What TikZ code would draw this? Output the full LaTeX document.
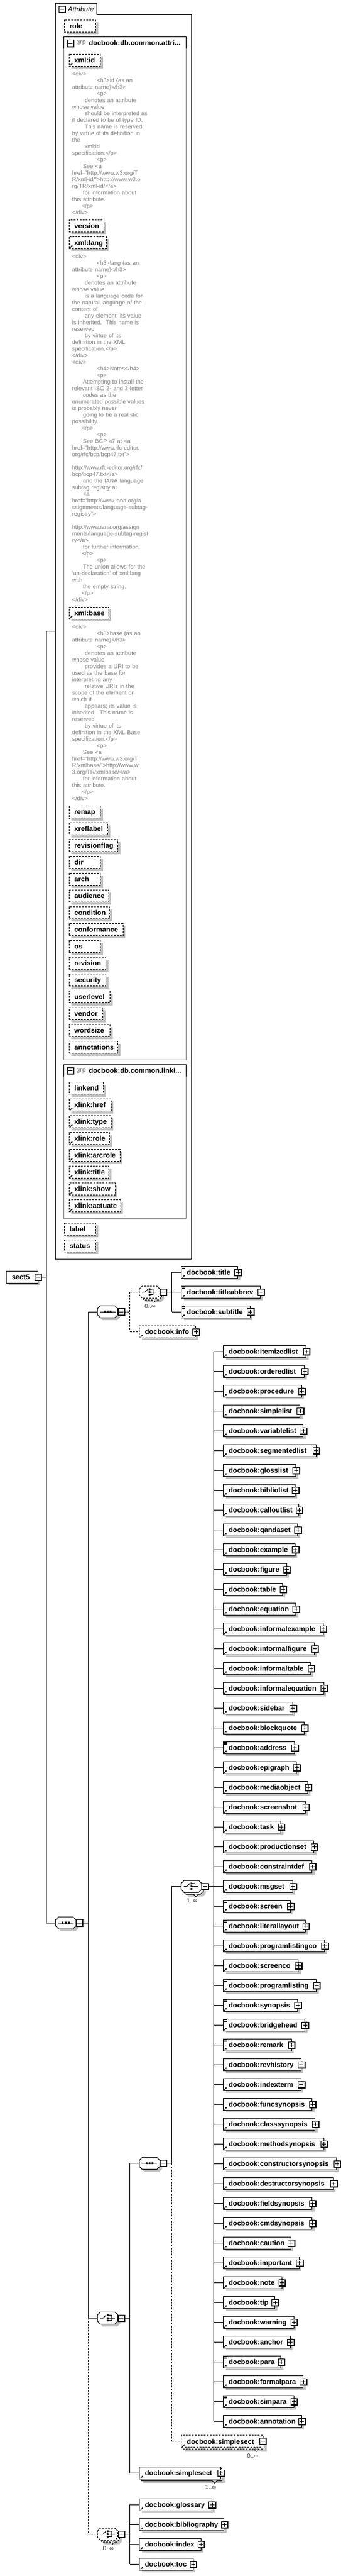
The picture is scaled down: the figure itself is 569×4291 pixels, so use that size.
\documentclass[tikz,border=0pt]{standalone}
\usepackage{fontspec}
\setmainfont{Liberation Sans}
\usetikzlibrary{calc, arrows.meta, shadows}

\definecolor{shadowgray}{RGB}{192,192,192}
\definecolor{docgray}{RGB}{128,128,128}
\definecolor{grpgray}{RGB}{128,128,128}

\newcommand{\elemfont}{\fontsize{11.6}{13}\selectfont\bfseries}
\newcommand{\docfont}{\fontsize{9.6}{11}\selectfont}
\newcommand{\tabin}[1]{\hspace*{#1pt}}

\tikzset{
  shadowed/.style={drop shadow={shadow xshift=4pt, shadow yshift=-4pt, fill=shadowgray, opacity=1}},
  elembox/.style={draw, fill=white, anchor=west, minimum height=20pt, inner xsep=9pt, inner ysep=0pt,
    text height=8.5pt, text depth=0pt, align=left, font=\elemfont},
  optline/.style={dash pattern=on 3pt off 2pt},
  compobox/.style={minimum width=34.2pt, minimum height=20pt, inner sep=0pt, anchor=west},
  doctext/.style={anchor=base west, inner sep=0pt, text width=170pt, align=left, text=docgray, font=\docfont},
  multlabel/.style={inner sep=0pt, text=black!80, font=\fontsize{10}{12}\selectfont},
  grptag/.style={anchor=west, inner sep=0pt, text=grpgray, font=\fontsize{11}{13}\selectfont},
  grpname/.style={anchor=west, inner sep=0pt, font=\elemfont},
  conn/.style={line width=1pt},
  optconn/.style={conn, optline},
}

% small button on a box edge: #1 centre point, #2 = 1 for plus, 0 for minus
\newcommand{\btn}[2]{%
  \fill ($#1+(-5.7,-5.7)$) rectangle ($#1+(6.7,6.7)$);
  \fill[white] ($#1+(-4.7,-4.7)$) rectangle ($#1+(4.7,4.7)$);
  \draw ($#1+(-3.5,0)$) -- ($#1+(3.5,0)$);
  \ifnum#2=1 \draw ($#1+(0,-3.5)$) -- ($#1+(0,3.5)$);\fi
}
% reference arrow and mixed content marks
\newcommand{\refmark}[1]{\draw[-{Stealth[length=2.6pt,width=2.8pt]}, line width=0.9pt]
  ($(#1.south west)+(2,-1.6)$) -- ++(4.2,-4.2);}
\newcommand{\mixmark}[1]{\foreach \k in {1.5,3.2,4.9}
  \draw[line width=0.8pt] ($(#1.north west)+(1.6,\k)$) -- ++(5,0);}

% element box: #1 extra style, #2 name, #3 left x, #4 centre y, #5 box width, #6 text
\newcommand{\elem}[6][]{%
  \pgfmathsetmacro{\boxtw}{#5-18}%
  \node[elembox, shadowed, text width=\boxtw pt, #1] (#2) at (#3,#4) {\mbox{#6}};
  \refmark{#2}
  \btn{(#2.east)}{1}
}
% repeated element box: as \elem, #7 occurrence text
\newcommand{\elemstack}[7][]{%
  \fill[shadowgray] (#3+7,#4-3) rectangle (#3+#5+7,#4+17);
  \filldraw[fill=white, #1] (#3+3,#4-7) rectangle (#3+#5+3,#4+13);
  \filldraw[fill=white, #1] (#3+#5-13.5,#4+13) -- (#3+#5-9.5,#4+17) -- (#3+#5-5.5,#4+13);
  \pgfmathsetmacro{\boxtw}{#5-18}%
  \node[elembox, text width=\boxtw pt, #1] (#2) at (#3,#4) {\mbox{#6}};
  \refmark{#2}
  \btn{(#2.east)}{1}
  \node[multlabel] (#2-mult) at (#3+#5-16,#4+24) {#7};
}
% attribute box: #1 extra style, #2 name, #3 left x, #4 centre y, #5 box width, #6 text
\newcommand{\attr}[6][]{%
  \pgfmathsetmacro{\boxtw}{#5-18}%
  \node[elembox, shadowed, optline, text width=\boxtw pt, #1] (#2) at (#3,#4) {\mbox{#6}};
}

% compositor outline and icons
\newcommand{\octpath}[2]{(#1,#2-5) -- (#1+5,#2-10) -- (#1+29.2,#2-10) -- (#1+34.2,#2-5)
  -- (#1+34.2,#2+5) -- (#1+29.2,#2+10) -- (#1+5,#2+10) -- (#1,#2+5) -- cycle}
\newcommand{\seqicon}[2]{%
  \draw (#1+4,#2) -- (#1+30,#2);
  \foreach \k in {10.3,15.5,20.7} \fill (#1+\k,#2-1.6) rectangle ++(3.2,3.2);
}
\newcommand{\choiceicon}[2]{%
  \draw (#1+4.5,#2) -- (#1+9.5,#2) -- (#1+14.5,#2-5);
  \fill (#1+15.4,#2-6.1) rectangle ++(3,3);
  \fill (#1+15.4,#2-1.5) rectangle ++(3,3);
  \fill (#1+15.4,#2+3.1) rectangle ++(3,3);
  \draw (#1+18.4,#2-4.6) -- (#1+23.5,#2-4.6) -- (#1+23.5,#2+4.6) -- (#1+18.4,#2+4.6);
  \draw (#1+18.4,#2) -- (#1+29,#2);
}
% compositor: #1 outline style, #2 name, #3 left x, #4 centre y, #5 icon
\newcommand{\compo}[5][]{%
  \node[compobox] (#2) at (#3,#4) {};
  \fill[shadowgray] \octpath{#3+4}{#4+4};
  \filldraw[fill=white, #1] \octpath{#3}{#4};
  #5{#3}{#4}
  \btn{(#3+39.9,#4)}{0}
  \coordinate (#2-out) at (#3+45.6,#4);
  \coordinate (#2-bus) at (#3+54.4,#4);
}
% repeated compositor: as \compo, #6 occurrence text
\newcommand{\compostack}[6][]{%
  \fill[shadowgray] \octpath{#3+7}{#4+7};
  \filldraw[fill=white, #1] \octpath{#3+3}{#4+3};
  \filldraw[fill=white, #1] (#3+20.7,#4+13) -- (#3+24.7,#4+17) -- (#3+28.7,#4+13);
  \node[compobox] (#2) at (#3,#4) {};
  \filldraw[fill=white, #1] \octpath{#3}{#4};
  #5{#3}{#4}
  \btn{(#3+39.9,#4)}{0}
  \coordinate (#2-out) at (#3+45.6,#4);
  \coordinate (#2-bus) at (#3+54.4,#4);
  \node[multlabel] (#2-mult) at (#3+18.2,#4+24) {#6};
}

\begin{document}
\begin{tikzpicture}[x=1pt, y=-1pt, line width=1pt]

    \fill[white] (0,0) rectangle (569,4291);
    \useasboundingbox (0,0) rectangle (569,4291);

    % Draw the attribute frame with its tab
    \node[minimum width=225.8pt, minimum height=2090.7pt, inner sep=0pt, anchor=north west] (attrframe) at (92.6,5.3) {};
    \draw (attrframe.south west) -- (attrframe.north west) -- ++(69.2,0) -- ++(0,19)
        -- ($(attrframe.north east)+(0,19)$) -- (attrframe.south east) -- cycle;
    \btn{(103.5,15.3)}{0}
    \node[anchor=west, inner sep=0pt, font=\fontsize{11.6}{13}\selectfont\itshape] (attrtab) at (112.9,15) {Attribute};

    \attr{role}{106.6}{43.3}{52.6}{role}

    % Draw the group of common attributes
    \draw[grpgray] (106.6,81) -- (106.6,1765) -- (310.7,1765) -- (310.7,81);
    \draw (106.6,81) -- (106.6,61.7) -- (310.7,61.7) -- (310.7,81);
    \btn{(117.3,72)}{0}
    \node[grptag] (grpa-tag) at (126.8,71.5) {grp};
    \node[grpname] (grpa-name) at (147.8,71.5) {docbook:db.common.attri...};

    \attr{xmlid}{114.7}{100.3}{52.6}{xml:id}
    \refmark{xmlid}
    \node[doctext] (xmlid-doc) at (119.9,126.2) {<div>\\
\tabin{41}<h3>id (as an\\
attribute name)</h3>\\
\tabin{41}<p>\\
\tabin{21}denotes an attribute\\
whose value\\
\tabin{21}should be interpreted as\\
if declared to be of type ID.\\
\tabin{21}This name is reserved\\
by virtue of its definition in\\
the\\
\tabin{21}xml:id\\
specification.</p>\\
\tabin{41}<p>\\
\tabin{18}See <a\\
href="http://www.w3.org/T\\
R/xml-id/">http://www.w3.o\\
rg/TR/xml-id/</a>\\
\tabin{18}for information about\\
this attribute.\\
\tabin{16}</p>\\
</div>};

    \attr{version}{114.7}{376}{58}{version}
    \attr{xmllang}{114.7}{404}{62.1}{xml:lang}
    \refmark{xmllang}
    \node[doctext] (xmllang-doc) at (119.9,430.2) {<div>\\
\tabin{41}<h3>lang (as an\\
attribute name)</h3>\\
\tabin{41}<p>\\
\tabin{21}denotes an attribute\\
whose value\\
\tabin{21}is a language code for\\
the natural language of the\\
content of\\
\tabin{21}any element; its value\\
is inherited.\ \ This name is\\
reserved\\
\tabin{21}by virtue of its\\
definition in the XML\\
specification.</p>\\
</div>\\
<div>\\
\tabin{41}<h4>Notes</h4>\\
\tabin{41}<p>\\
\tabin{18}Attempting to install the\\
relevant ISO 2- and 3-letter\\
\tabin{18}codes as the\\
enumerated possible values\\
is probably never\\
\tabin{18}going to be a realistic\\
possibility.\\
\tabin{16}</p>\\
\tabin{41}<p>\\
\tabin{18}See BCP 47 at <a\\
href="http://www.rfc-editor.\\
org/rfc/bcp/bcp47.txt">\\
\mbox{}\\
http://www.rfc-editor.org/rfc/\\
bcp/bcp47.txt</a>\\
\tabin{18}and the IANA language\\
subtag registry at\\
\tabin{18}<a\\
href="http://www.iana.org/a\\
ssignments/language-subtag-\\
registry">\\
\mbox{}\\
http://www.iana.org/assign\\
ments/language-subtag-regist\\
ry</a>\\
\tabin{18}for further information.\\
\tabin{16}</p>\\
\tabin{41}<p>\\
\tabin{18}The union allows for the\\
\textquotesingle un-declaration\textquotesingle{} of xml:lang\\
with\\
\tabin{18}the empty string.\\
\tabin{16}</p>\\
</div>};

    \attr{xmlbase}{114.7}{1021}{66.2}{xml:base}
    \refmark{xmlbase}
    \node[doctext] (xmlbase-doc) at (119.9,1047.2) {<div>\\
\tabin{41}<h3>base (as an\\
attribute name)</h3>\\
\tabin{41}<p>\\
\tabin{21}denotes an attribute\\
whose value\\
\tabin{21}provides a URI to be\\
used as the base for\\
interpreting any\\
\tabin{21}relative URIs in the\\
scope of the element on\\
which it\\
\tabin{21}appears; its value is\\
inherited.\ \ This name is\\
reserved\\
\tabin{21}by virtue of its\\
definition in the XML Base\\
specification.</p>\\
\tabin{41}<p>\\
\tabin{18}See <a\\
href="http://www.w3.org/T\\
R/xmlbase/">http://www.w\\
3.org/TR/xmlbase/</a>\\
\tabin{18}for information about\\
this attribute.\\
\tabin{16}</p>\\
</div>};

    \attr{remap}{114.7}{1352.7}{52.6}{remap}
    \attr{xreflabel}{114.7}{1380.7}{64.7}{xreflabel}
    \attr{revisionflag}{114.7}{1408.7}{81.6}{revisionflag}
    \attr{dir}{114.7}{1436.7}{52.6}{dir}
    \attr{arch}{114.7}{1464.7}{52.6}{arch}
    \attr{audience}{114.7}{1492.7}{66.2}{audience}
    \attr{condition}{114.7}{1520.7}{67.6}{condition}
    \attr{conformance}{114.7}{1548.7}{90}{conformance}
    \attr{os}{114.7}{1576.7}{52.6}{os}
    \attr{revision}{114.7}{1604.7}{61.4}{revision}
    \attr{security}{114.7}{1632.7}{61.4}{security}
    \attr{userlevel}{114.7}{1660.7}{68.4}{userlevel}
    \attr{vendor}{114.7}{1688.7}{56.6}{vendor}
    \attr{wordsize}{114.7}{1716.7}{68.4}{wordsize}
    \attr{annotations}{114.7}{1744.7}{81.6}{annotations}

    % Draw the group of linking attributes
    \draw[grpgray] (106.6,1792.6) -- (106.6,2029.3) -- (310.7,2029.3) -- (310.7,1792.6);
    \draw (106.6,1792.6) -- (106.6,1773.3) -- (310.7,1773.3) -- (310.7,1792.6);
    \btn{(117.3,1783.6)}{0}
    \node[grptag] (grpb-tag) at (126.8,1783.3) {grp};
    \node[grpname] (grpb-name) at (147.8,1783.3) {docbook:db.common.linki...};

    \attr{linkend}{114.7}{1812.7}{57.4}{linkend}
    \attr{xlinkhref}{114.7}{1840.7}{69.9}{xlink:href}
    \attr{xlinktype}{114.7}{1868.7}{69.9}{xlink:type}
    \attr{xlinkrole}{114.7}{1896.7}{67.6}{xlink:role}
    \attr{xlinkarcrole}{114.7}{1924.7}{85}{xlink:arcrole}
    \attr{xlinktitle}{114.7}{1952.7}{66.5}{xlink:title}
    \attr{xlinkshow}{114.7}{1980.7}{76.8}{xlink:show}
    \attr{xlinkactuate}{114.7}{2008.7}{86}{xlink:actuate}
    \foreach \n in {xlinkhref,xlinktype,xlinkrole,xlinkarcrole,xlinktitle,xlinkshow,xlinkactuate}
        \refmark{\n};

    \attr{label}{106.6}{2047.3}{52.6}{label}
    \attr{status}{106.6}{2075.3}{52.6}{status}

    % Draw the sect5 element
    \node[elembox, shadowed, text width=34.2pt] (sect5) at (10.3,2127.3) {sect5};
    \btn{(sect5.east)}{0}
    \coordinate (sect5-bus) at (77.2,2127.3);

    % Draw the compositors
    \compo{seqmain}{92.6}{3203}{\seqicon}
    \compo{seqa}{162.5}{2185}{\seqicon}
    \compostack[optline]{titlechoice}{232.4}{2152.3}{\choiceicon}{0..∞}
    \compo{choiceb}{162.5}{3861.3}{\choiceicon}
    \compo{seqc}{232.4}{3603.7}{\seqicon}
    \compostack{choicelist}{302.2}{3142.3}{\choiceicon}{1..∞}
    \compostack[optline]{choiced}{162.5}{4221.3}{\choiceicon}{0..∞}

    % Draw the title elements
    \elem{title}{302.2}{2119.3}{93.8}{docbook:title}
    \elem{titleabbrev}{302.2}{2152.3}{132}{docbook:titleabbrev}
    \elem{subtitle}{302.2}{2185}{114.7}{docbook:subtitle}
    \elem[optline]{info}{232.4}{2218.3}{93.7}{docbook:info}

    % Draw the block elements of the choice
    \elem{itemizedlist}{372.1}{2251.3}{138.2}{docbook:itemizedlist}
    \elem{orderedlist}{372.1}{2284.3}{135.3}{docbook:orderedlist}
    \elem{procedure}{372.1}{2317.3}{130.8}{docbook:procedure}
    \elem{simplelist}{372.1}{2350.3}{127.9}{docbook:simplelist}
    \elem{variablelist}{372.1}{2383.3}{133}{docbook:variablelist}
    \elem{segmentedlist}{372.1}{2416.3}{154.4}{docbook:segmentedlist}
    \elem{glosslist}{372.1}{2449.3}{120.9}{docbook:glosslist}
    \elem{bibliolist}{372.1}{2482.3}{119.8}{docbook:bibliolist}
    \elem{calloutlist}{372.1}{2515.3}{126.1}{docbook:calloutlist}
    \elem{qandaset}{372.1}{2548.3}{123.9}{docbook:qandaset}
    \elem{example}{372.1}{2581.3}{119.8}{docbook:example}
    \elem{figure}{372.1}{2614.3}{105.5}{docbook:figure}
    \elem{table}{372.1}{2647.3}{99.2}{docbook:table}
    \elem{equation}{372.1}{2680.3}{120.9}{docbook:equation}
    \elem{informalexample}{372.1}{2713.3}{166.5}{docbook:informalexample}
    \elem{informalfigure}{372.1}{2746.3}{152.2}{docbook:informalfigure}
    \elem{informaltable}{372.1}{2779.3}{146.3}{docbook:informaltable}
    \elem{informalequation}{372.1}{2812.3}{167.6}{docbook:informalequation}
    \elem{sidebar}{372.1}{2845.3}{115.8}{docbook:sidebar}
    \elem{blockquote}{372.1}{2878.3}{135.3}{docbook:blockquote}
    \elem{address}{372.1}{2911.3}{118.7}{docbook:address}
    \elem{epigraph}{372.1}{2944.3}{122}{docbook:epigraph}
    \elem{mediaobject}{372.1}{2977.3}{141.1}{docbook:mediaobject}
    \elem{screenshot}{372.1}{3010.3}{137.1}{docbook:screenshot}
    \elem{task}{372.1}{3043.3}{96.3}{docbook:task}
    \elem{productionset}{372.1}{3076.3}{151.1}{docbook:productionset}
    \elem{constraintdef}{372.1}{3109.3}{148.1}{docbook:constraintdef}
    \elem{msgset}{372.1}{3142.3}{115.8}{docbook:msgset}
    \elem{screen}{372.1}{3175.3}{111.7}{docbook:screen}
    \elem{literallayout}{372.1}{3208.3}{137.1}{docbook:literallayout}
    \elem{programlistingco}{372.1}{3241.3}{168.7}{docbook:programlistingco}
    \elem{screenco}{372.1}{3274.3}{125}{docbook:screenco}
    \elem{programlisting}{372.1}{3307.3}{155.1}{docbook:programlisting}
    \elem{synopsis}{372.1}{3340.3}{123.9}{docbook:synopsis}
    \elem{bridgehead}{372.1}{3373.3}{136}{docbook:bridgehead}
    \elem{remark}{372.1}{3406.3}{113.6}{docbook:remark}
    \elem{revhistory}{372.1}{3439.3}{129.7}{docbook:revhistory}
    \elem{indexterm}{372.1}{3472.3}{129.7}{docbook:indexterm}
    \elem{funcsynopsis}{372.1}{3505.3}{148.1}{docbook:funcsynopsis}
    \elem{classsynopsis}{372.1}{3538.3}{153.3}{docbook:classsynopsis}
    \elem{methodsynopsis}{372.1}{3571.3}{167.6}{docbook:methodsynopsis}
    \elem{constructorsynopsis}{372.1}{3604.3}{189.3}{docbook:constructorsynopsis}
    \elem{destructorsynopsis}{372.1}{3637.3}{183.8}{docbook:destructorsynopsis}
    \elem{fieldsynopsis}{372.1}{3670.3}{148.1}{docbook:fieldsynopsis}
    \elem{cmdsynopsis}{372.1}{3703.3}{148.1}{docbook:cmdsynopsis}
    \elem{caution}{372.1}{3736.3}{112.8}{docbook:caution}
    \elem{important}{372.1}{3769.3}{126.8}{docbook:important}
    \elem{note}{372.1}{3802.3}{97.4}{docbook:note}
    \elem{tip}{372.1}{3835.3}{86}{docbook:tip}
    \elem{warning}{372.1}{3868.3}{117.6}{docbook:warning}
    \elem{anchor}{372.1}{3901.3}{111.7}{docbook:anchor}
    \elem{para}{372.1}{3934.3}{96.3}{docbook:para}
    \elem{formalpara}{372.1}{3967.3}{133}{docbook:formalpara}
    \elem{simpara}{372.1}{4000.3}{117.6}{docbook:simpara}
    \elem{annotation}{372.1}{4033.3}{130.8}{docbook:annotation}
    \foreach \n in {title,titleabbrev,subtitle,address,screen,literallayout,programlisting,
        synopsis,bridgehead,remark,para,simpara}
        \mixmark{\n};

    % Draw the sections and back matter
    \elemstack[optline]{simplesecta}{302.2}{4066.7}{135.3}{docbook:simplesect}{0..∞}
    \elemstack{simplesectb}{232.4}{4119.3}{135.2}{docbook:simplesect}{1..∞}
    \elem{glossary}{232.4}{4172.3}{120.6}{docbook:glossary}
    \elem{bibliography}{232.4}{4205.3}{140.8}{docbook:bibliography}
    \elem{index}{232.4}{4238.3}{102.2}{docbook:index}
    \elem{toc}{232.4}{4271.3}{89.3}{docbook:toc}

    % Connect sect5 to its attributes and content
    \draw[conn] ($(sect5.east)+(5.7,0)$) -- (sect5-bus);
    \draw[conn] (sect5-bus |- attrframe.west) -- (sect5-bus |- seqmain.west);
    \draw[conn] (sect5-bus |- attrframe.west) -- (attrframe.west);
    \draw[conn] (sect5-bus |- seqmain.west) -- (seqmain.west);

    % Connect the main sequence
    \draw[conn] (seqmain-out) -- (seqmain-bus);
    \draw[conn] (seqmain-bus |- seqa.west) -- (seqmain-bus |- choiceb.west);
    \draw[optconn] (seqmain-bus |- choiceb.west) -- (seqmain-bus |- choiced.west);
    \draw[conn] (seqmain-bus |- seqa.west) -- (seqa.west);
    \draw[conn] (seqmain-bus |- choiceb.west) -- (choiceb.west);
    \draw[optconn] (seqmain-bus |- choiced.west) -- (choiced.west);

    % Connect the title sequence
    \draw[optconn] (seqa-out) -- (seqa-bus);
    \draw[optconn] (seqa-bus |- titlechoice.west) -- (seqa-bus |- info.west);
    \draw[optconn] (seqa-bus |- titlechoice.west) -- (titlechoice.west);
    \draw[optconn] (seqa-bus |- info.west) -- (info.west);
    \draw[conn] (titlechoice-out) -- (titlechoice-bus);
    \draw[conn] (titlechoice-bus |- title.west) -- (titlechoice-bus |- subtitle.west);
    \foreach \n in {title,titleabbrev,subtitle}
        \draw[conn] (titlechoice-bus |- \n.west) -- (\n.west);

    % Connect the body choice
    \draw[conn] (choiceb-out) -- (choiceb-bus);
    \draw[conn] (choiceb-bus |- seqc.west) -- (choiceb-bus |- simplesectb.west);
    \draw[conn] (choiceb-bus |- seqc.west) -- (seqc.west);
    \draw[conn] (choiceb-bus |- simplesectb.west) -- (simplesectb.west);
    \draw[conn] (seqc-out) -- (seqc-bus);
    \draw[conn] (seqc-bus |- choicelist.west) -- (seqc-bus);
    \draw[optconn] (seqc-bus) -- (seqc-bus |- simplesecta.west);
    \draw[conn] (seqc-bus |- choicelist.west) -- (choicelist.west);
    \draw[optconn] (seqc-bus |- simplesecta.west) -- (simplesecta.west);

    % Connect the block elements
    \draw[conn] (choicelist-out) -- (choicelist-bus);
    \draw[conn] (choicelist-bus |- itemizedlist.west) -- (choicelist-bus |- annotation.west);
    \foreach \n in {itemizedlist,orderedlist,procedure,simplelist,variablelist,segmentedlist,
        glosslist,bibliolist,calloutlist,qandaset,example,figure,table,equation,informalexample,
        informalfigure,informaltable,informalequation,sidebar,blockquote,address,epigraph,
        mediaobject,screenshot,task,productionset,constraintdef,msgset,screen,literallayout,
        programlistingco,screenco,programlisting,synopsis,bridgehead,remark,revhistory,indexterm,
        funcsynopsis,classsynopsis,methodsynopsis,constructorsynopsis,destructorsynopsis,
        fieldsynopsis,cmdsynopsis,caution,important,note,tip,warning,anchor,para,formalpara,
        simpara,annotation}
        \draw[conn] (choicelist-bus |- \n.west) -- (\n.west);

    % Connect the back matter choice
    \draw[conn] (choiced-out) -- (choiced-bus);
    \draw[conn] (choiced-bus |- glossary.west) -- (choiced-bus |- toc.west);
    \foreach \n in {glossary,bibliography,index,toc}
        \draw[conn] (choiced-bus |- \n.west) -- (\n.west);

\end{tikzpicture}
\end{document}
